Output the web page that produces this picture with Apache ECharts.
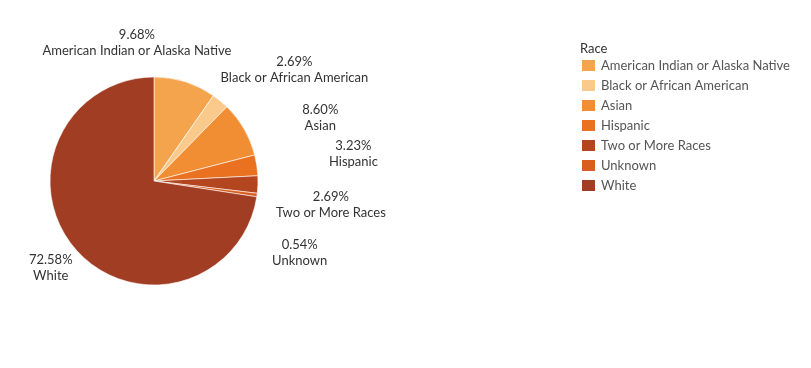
<!DOCTYPE html>
<html>
<head>
<meta charset="utf-8">
<script src="https://cdn.jsdelivr.net/npm/echarts@6/dist/echarts.min.js"></script>
<style>
html,body{margin:0;padding:0;background:#fff;}
#chart{width:811px;height:368px;}
</style>
</head>
<body>
<div id="chart"></div>
<script>
var categories = ['American Indian or Alaska Native','Black or African American','Asian','Hispanic','Two or More Races','Unknown','White'];
var percents = [9.68, 2.69, 8.60, 3.23, 2.69, 0.54, 72.58];
var colors = ['#F4A44C','#FAC98C','#F18D33','#E9711F','#B4461F','#DA5E1E','#A03D23'];
var legendTitle = 'Race';

// label nudges relative to ECharts' default outside anchor (styling only)
var labelNudge = [[-59,-5],[51,-3],[45,7],[61,-6],[37,19],[7,53],[3,-4]];
var CX = 154, CY = 181;

var chart = echarts.init(document.getElementById('chart'), null, {renderer:'canvas'});
var data = categories.map(function(c,i){ return {name:c, value:percents[i], itemStyle:{color:colors[i]}}; });
chart.setOption({
  animation:false,
  textStyle:{fontFamily:'Lato'},
  title:{text:legendTitle,left:575,top:37,textStyle:{fontSize:13,fontWeight:'normal',color:'#333',fontFamily:'Lato'}},
  legend:{
    orient:'vertical',left:575,top:53,icon:'rect',itemWidth:15,itemHeight:13,itemGap:5,
    textStyle:{fontSize:13,color:'#555',fontFamily:'Lato'},
    data:categories
  },
  series:[{
    type:'pie',
    center:[CX,CY],
    radius:104,
    startAngle:90,
    clockwise:true,
    avoidLabelOverlap:false,
    itemStyle:{borderColor:'#fff',borderWidth:0.6},
    label:{
      show:true,position:'outside',distanceToLabelLine:0,
      fontSize:13,color:'#333',fontFamily:'Lato',lineHeight:16,
      formatter:function(p){ return p.value.toFixed(2)+'%\n'+p.name; }
    },
    labelLine:{show:false,length:36,length2:0},
    labelLayout:function(p){
      var r = p.labelRect;
      var right = (r.x + r.width/2) > CX;
      var ax = right ? r.x : r.x + r.width;
      var ay = r.y + r.height/2;
      var n = labelNudge[p.dataIndex];
      return {x:ax+n[0], y:ay+n[1], align:'center', verticalAlign:'middle'};
    },
    emphasis:{disabled:true},
    data:data
  }]
});
</script>
</body>
</html>
